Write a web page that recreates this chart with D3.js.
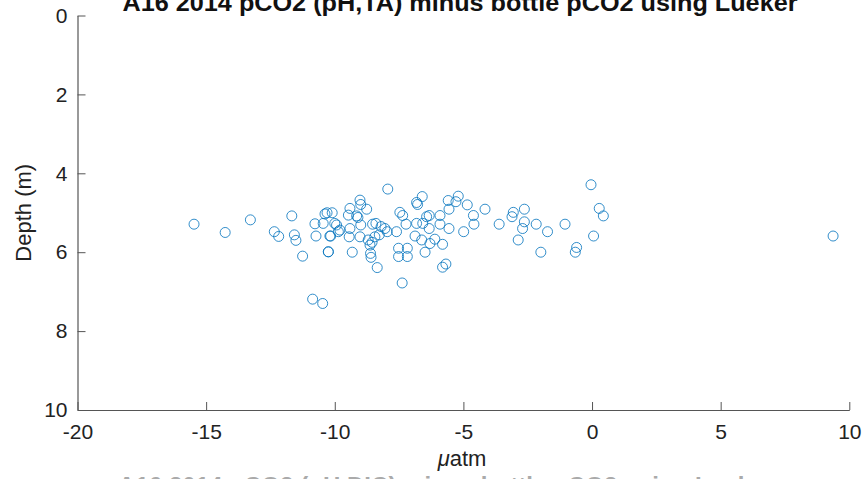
<!DOCTYPE html>
<html><head><meta charset="utf-8">
<script src="https://cdn.jsdelivr.net/npm/d3@7"></script>
<style>
html,body{margin:0;padding:0;background:#fff;overflow:hidden;}
svg{display:block;font-family:"Liberation Sans",Arial,Helvetica,sans-serif;}
</style></head>
<body><svg id="c" width="862" height="479"></svg>
<script>
const titleText = "A16 2014 pCO2 (pH,TA) minus bottle pCO2 using Lueker";
const nextTitleText = "A16 2014 pCO2 (pH,DIC) minus bottle pCO2 using Lueker";
const xLabel = "atm";
const yLabel = "Depth (m)";
const xTicks = [-20, -15, -10, -5, 0, 5, 10];
const yTicks = [0, 2, 4, 6, 8, 10];
// difference in uatm
const diffs = [
 -15.47,-14.26,-13.28,-11.67,-12.35,-12.18,-11.57,-11.51,-11.25,-10.77,-10.73,-10.25,
 -10.30,-10.10,-10.38,-10.45,-10.00,-10.16,-9.86,-10.86,-10.47,
 -7.94,-0.04,-6.60,-5.20,-5.59,-5.29,-6.78,-6.82,-9.02,-8.99,-9.41,-8.76,-4.85,-4.16,-5.56,
 -2.63,0.28,0.44,-3.06,-3.11,-2.63,-2.70,-2.17,-1.73,-1.05,-2.87,-1.99,0.06,-0.60,-0.65,
 -3.61,-4.61,-4.59,-4.99,-5.56,-5.91,-5.91,-6.33,-6.43,-7.47,-7.36,-7.23,-6.82,-6.58,-6.33,
 -6.88,-6.62,-6.30,-6.11,-5.81,-6.49,-7.52,-7.18,-7.52,-7.18,-7.60,-7.96,-8.05,-8.40,-8.53,
 -8.27,-8.44,-8.70,-8.63,-8.61,-8.59,-8.35,-7.38,-5.81,-5.68,-8.99,-9.02,-9.41,-9.44,-9.47,
 -9.15,-9.80,-9.93,-10.19,-9.32,-10.25,9.37,-8.55,-9.10,-8.20
];
// depth in m
const depths = [
 5.29,5.50,5.18,5.08,5.48,5.60,5.56,5.70,6.10,5.28,5.59,5.99,
 5.00,5.00,5.03,5.27,5.27,5.59,5.48,7.19,7.30,
 4.40,4.29,4.59,4.58,4.69,4.72,4.79,4.74,4.68,4.79,4.89,4.91,4.80,4.91,4.91,
 4.91,4.89,5.08,4.99,5.10,5.23,5.40,5.29,5.48,5.29,5.69,6.00,5.59,5.88,6.00,
 5.29,5.07,5.29,5.48,5.40,5.07,5.29,5.07,5.10,4.99,5.07,5.29,5.27,5.27,5.40,
 5.59,5.69,5.78,5.67,5.80,6.00,5.90,5.90,6.11,6.11,5.48,5.48,5.40,5.27,5.29,
 5.56,5.61,5.69,5.82,6.03,6.13,6.39,6.78,6.38,6.30,5.31,5.61,5.40,5.61,5.06,
 5.08,5.44,5.31,5.59,6.00,5.99,5.59,5.75,5.12,5.35
];

const svg = d3.select("#c");
const x = d3.scaleLinear().domain([-20, 10]).range([77.5, 849.3]);
const y = d3.scaleLinear().domain([0, 10]).range([15.5, 410]);
const axisColor = "#555";

// x axis
const gx = svg.append("g").attr("transform", `translate(0,${y(10)})`)
  .call(d3.axisBottom(x).tickValues(xTicks).tickSizeInner(-8).tickSizeOuter(0).tickPadding(14).tickFormat(d => String(d)));
// y axis
const gy = svg.append("g").attr("transform", `translate(${x(-20)},0)`)
  .call(d3.axisLeft(y).tickValues(yTicks).tickSizeInner(-8).tickSizeOuter(0).tickPadding(10).tickFormat(d => String(d)));
[gx, gy].forEach(g => {
  g.select(".domain").attr("stroke", axisColor).attr("stroke-width", 1.2);
  g.selectAll(".tick line").attr("stroke", axisColor).attr("stroke-width", 1);
  g.selectAll(".tick text").attr("fill", "#222").style("font-size", "21px")
   .style("font-family", '"Liberation Sans", Arial, sans-serif');
});
gx.selectAll(".tick text").attr("dy", "0.71em");

// points
svg.append("g").selectAll("circle").data(diffs.map((d, i) => [d, depths[i]]))
  .join("circle")
  .attr("cx", d => x(d[0])).attr("cy", d => y(d[1])).attr("r", 5)
  .attr("fill", "none").attr("stroke", "#0072BD").attr("stroke-width", 1).attr("stroke-opacity", 0.8);

// title
svg.append("text").attr("x", 460).attr("y", 11).attr("text-anchor", "middle")
  .attr("textLength", 675).attr("lengthAdjust", "spacingAndGlyphs")
  .style("font-size", "24px").style("font-weight", "bold").attr("fill", "#111").text(titleText);

// next subplot title (cut off at bottom)
svg.append("text").attr("x", 446).attr("y", 494).attr("text-anchor", "middle")
  .attr("textLength", 656).attr("lengthAdjust", "spacingAndGlyphs")
  .style("font-size", "24px").style("font-weight", "bold").attr("fill", "#aaa").text(nextTitleText);

// x label
const xl = svg.append("text").attr("x", 462).attr("y", 466).attr("text-anchor", "middle")
  .style("font-size", "22px").attr("fill", "#222");
xl.append("tspan").style("font-style", "italic").text("\u03bc");
xl.append("tspan").text(xLabel);

// y label
svg.append("text").attr("transform", `translate(31,${(y(0)+y(10))/2}) rotate(-90)`)
  .attr("text-anchor", "middle").style("font-size", "22px").attr("fill", "#222").text(yLabel);
</script></body></html>
